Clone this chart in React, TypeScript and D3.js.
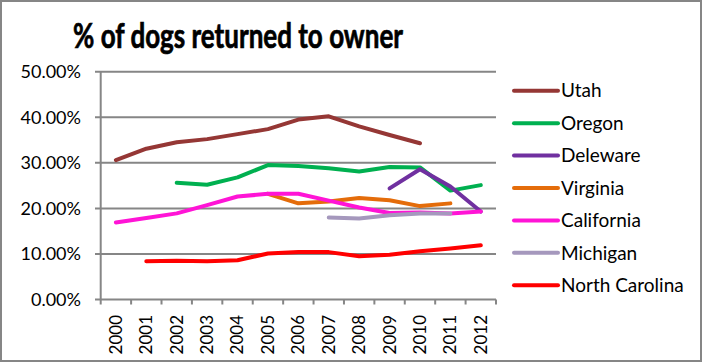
import React from "react";
import * as d3 from "d3";

const years = ["2000", "2001", "2002", "2003", "2004", "2005", "2006", "2007", "2008", "2009", "2010", "2011", "2012"];
const states = ["Utah", "Oregon", "Deleware", "Virginia", "California", "Michigan", "North Carolina"];
const colors = ["#953735", "#00B050", "#7030A0", "#E46C0A", "#FF14D6", "#A598BD", "#FF0000"];

// values in %, null = no data that year
const utah = [30.6, 33.1, 34.5, 35.2, 36.3, 37.4, 39.5, 40.2, 38.0, 36.1, 34.3, null, null];
const oregon = [null, null, 25.6, 25.2, 26.8, 29.5, 29.3, 28.8, 28.1, 29.1, 29.0, 23.9, 25.1];
const deleware = [null, null, null, null, null, null, null, null, null, 24.4, 28.6, 24.8, 19.3];
const virginia = [null, null, null, null, null, 23.2, 21.1, 21.5, 22.3, 21.8, 20.5, 21.1, null];
const california = [16.9, 17.9, 18.9, 20.7, 22.6, 23.2, 23.2, 21.7, 20.2, 19.0, 19.1, 18.9, 19.3];
const michigan = [null, null, null, null, null, null, null, 18.0, 17.8, 18.5, 18.9, 18.9, null];
const northCarolina = [null, 8.4, 8.5, 8.4, 8.6, 10.1, 10.4, 10.4, 9.5, 9.8, 10.6, 11.2, 11.9];
const yTicks = [0, 10, 20, 30, 40, 50];

const series = [utah, oregon, deleware, virginia, california, michigan, northCarolina];

const W = 702;
const H = 362;
const font = "Lato, 'Open Sans', sans-serif";

export default function App() {
  const x = d3.scaleBand().domain(years).range([100.7, 496]);
  const y = d3.scaleLinear().domain([0, 50]).range([299.5, 71.7]);
  const line = d3
    .line<number | null>()
    .defined((d) => d !== null)
    .x((_, i) => (x(years[i]) as number) + x.bandwidth() / 2)
    .y((d) => y(d as number));
  const legendY = d3.scalePoint().domain(states).range([90.7, 285.3]);
  const grid = "#868686";

  return (
    <svg width={W} height={H} style={{ position: "absolute", left: 0, top: 0 }} fontFamily={font}>
      <rect x={1} y={1} width={W - 2} height={H - 2} fill="#fff" stroke={grid} strokeWidth={2} />
      <text
        x={73}
        y={48}
        fontSize={34}
        fontWeight="bold"
        fill="#000"
        stroke="#000"
        strokeWidth={0.7}
        textLength={330}
        lengthAdjust="spacingAndGlyphs"
      >
        % of dogs returned to owner
      </text>
      {yTicks.map((t) => (
        <g key={t}>
          <line x1={95} x2={496} y1={y(t)} y2={y(t)} stroke={grid} strokeWidth={2} />
          <text x={81} y={y(t)} dy="0.35em" textAnchor="end" fontSize={18} fill="#000">
            {t.toFixed(2)}%
          </text>
        </g>
      ))}
      <line x1={100.7} x2={100.7} y1={y(50)} y2={y(0)} stroke={grid} strokeWidth={2} />
      {years.map((yr, i) => {
        const cx = (x(yr) as number) + x.bandwidth() / 2;
        return (
          <g key={yr}>
            <line x1={x(yr)} x2={x(yr)} y1={y(0)} y2={y(0) + 5} stroke={grid} strokeWidth={2} />
            {i === years.length - 1 && (
              <line x1={496} x2={496} y1={y(0)} y2={y(0) + 5} stroke={grid} strokeWidth={2} />
            )}
            <text
              transform={`translate(${cx},315) rotate(-90)`}
              dy="0.35em"
              textAnchor="end"
              fontSize={17}
              fill="#000"
            >
              {yr}
            </text>
          </g>
        );
      })}
      {series.map((s, i) => (
        <path
          key={states[i]}
          d={line(s) || ""}
          fill="none"
          stroke={colors[i]}
          strokeWidth={4}
          strokeLinecap="round"
          strokeLinejoin="round"
        />
      ))}
      {states.map((st, i) => (
        <g key={st}>
          <line
            x1={514}
            x2={558}
            y1={legendY(st)}
            y2={legendY(st)}
            stroke={colors[i]}
            strokeWidth={4}
            strokeLinecap="round"
          />
          <text x={561} y={legendY(st)} dy="0.35em" fontSize={19} fill="#000">
            {st}
          </text>
        </g>
      ))}
    </svg>
  );
}
